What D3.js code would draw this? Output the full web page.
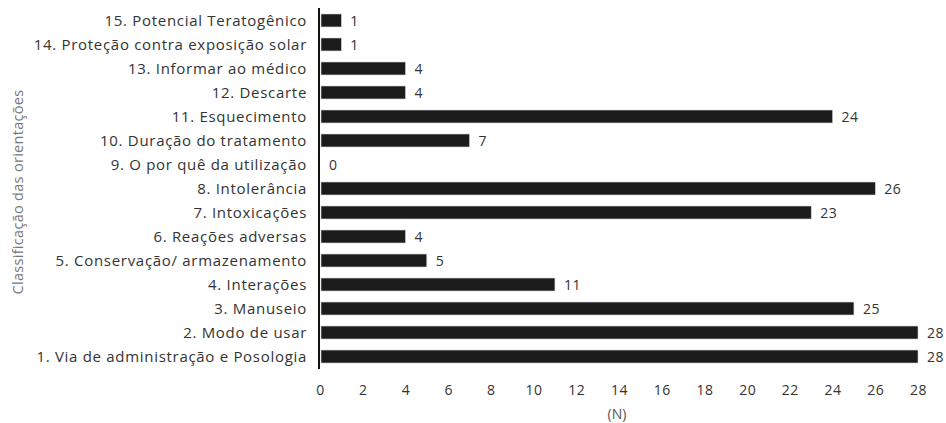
<!DOCTYPE html>
<html>
<head>
<meta charset="utf-8">
<script src="https://cdn.jsdelivr.net/npm/d3@7"></script>
<style>
  body { margin: 0; background: #fff; }
  text { font-family: "Open Sans", sans-serif; }
</style>
</head>
<body>
<script>
// categories top to bottom, as in the picture
const categories = [
  "15. Potencial Teratogênico",
  "14. Proteção contra exposição solar",
  "13. Informar ao médico",
  "12. Descarte",
  "11. Esquecimento",
  "10. Duração do tratamento",
  "9. O por quê da utilização",
  "8. Intolerância",
  "7. Intoxicações",
  "6. Reações adversas",
  "5. Conservação/ armazenamento",
  "4. Interações",
  "3. Manuseio",
  "2. Modo de usar",
  "1. Via de administração e Posologia"
];
const values = [1, 1, 4, 4, 24, 7, 0, 26, 23, 4, 5, 11, 25, 28, 28];
const xTicks = [0, 2, 4, 6, 8, 10, 12, 14, 16, 18, 20, 22, 24, 26, 28];

const W = 946, H = 423;
const margin = { top: 8, right: 28, bottom: 54, left: 320 };
const width = 918 - margin.left,
      height = H - margin.top - margin.bottom;

const svg = d3.select("body").append("svg")
    .attr("width", W)
    .attr("height", H);

const g = svg.append("g")
    .attr("transform", "translate(" + margin.left + "," + margin.top + ")");

const x = d3.scaleLinear().domain([0, 28]).range([0, width]);
const y = d3.scaleBand().domain(categories).range([0, height])
    .paddingInner(0.46).paddingOuter(0.25);

// bars
g.selectAll("rect.bar")
    .data(categories)
    .enter().append("rect")
    .attr("class", "bar")
    .attr("x", 1)
    .attr("y", d => y(d))
    .attr("width", (d, i) => Math.max(0, x(values[i]) - 1))
    .attr("height", y.bandwidth())
    .attr("fill", "#1c1c1c")
    .attr("stroke", "#d0d0d0")
    .attr("stroke-width", 0.6);

// value labels
g.selectAll("text.val")
    .data(categories)
    .enter().append("text")
    .attr("class", "val")
    .attr("x", (d, i) => x(values[i]) + 9)
    .attr("y", d => y(d) + y.bandwidth() / 2)
    .attr("dy", "0.38em")
    .attr("font-size", 14)
    .attr("letter-spacing", 0.5)
    .attr("fill", "#333")
    .text((d, i) => values[i]);

// y axis (line + category labels)
const yAxis = g.append("g")
    .call(d3.axisLeft(y).tickSize(0).tickPadding(13));
yAxis.select(".domain").attr("stroke", "#111").attr("stroke-width", 2)
    .attr("d", "M-1,0V" + height);
yAxis.selectAll("text")
    .attr("font-size", 15)
    .attr("letter-spacing", 0.7)
    .attr("fill", "#333")
    .attr("dy", "0.36em")
    .style("font-family", "'Open Sans', sans-serif");

// x axis, only tick labels
const xAxis = g.append("g")
    .attr("transform", "translate(0," + height + ")")
    .call(d3.axisBottom(x).tickValues(xTicks).tickSize(0).tickPadding(16));
xAxis.select(".domain").remove();
xAxis.selectAll("text")
    .attr("font-size", 14)
    .attr("letter-spacing", 0.5)
    .attr("fill", "#333")
    .style("font-family", "'Open Sans', sans-serif");

// x axis title
g.append("text")
    .attr("x", width / 2 - 2)
    .attr("y", height + 50)
    .attr("text-anchor", "middle")
    .attr("font-size", 14)
    .attr("fill", "#555")
    .text("(N)");

// y axis title
svg.append("text")
    .attr("transform", "rotate(-90)")
    .attr("x", -192)
    .attr("y", 23)
    .attr("text-anchor", "middle")
    .attr("font-size", 14.5)
    .attr("letter-spacing", 0.3)
    .attr("fill", "#777")
    .text("Classificação das orientações");
</script>
</body>
</html>
